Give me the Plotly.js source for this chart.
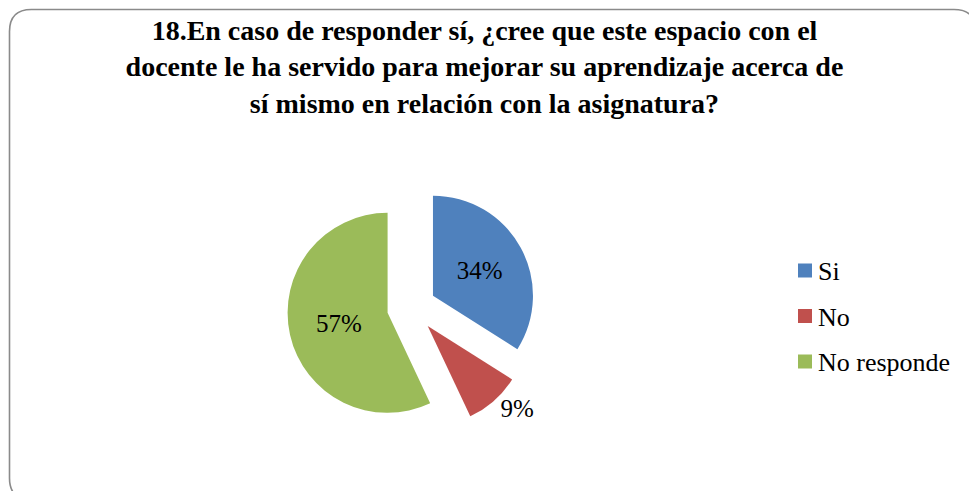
<!DOCTYPE html>
<html>
<head>
<meta charset="utf-8">
<script src="https://cdn.plot.ly/plotly-3.0.1.min.js"></script>
<style>html,body{margin:0;padding:0;background:#fff;}#chart{width:969px;height:491px;}</style>
</head>
<body>
<div id="chart"></div>
<script>
const titleText = "18.En caso de responder sí, ¿cree que este espacio con el<br>docente le ha servido para mejorar su aprendizaje acerca de<br>sí mismo en relación con la asignatura?";
const categories = ["Si", "No", "No responde"];
const values = [34, 9, 57];
const colors = ["#4F81BD", "#C0504D", "#9BBB59"];
const textPositions = ["inside", "outside", "inside"];

const W = 969, H = 491;
const px = x => x / W;
const py = y => 1 - y / H;
const serif = "Liberation Serif";

const trace = {
  type: "pie",
  labels: categories,
  values: values,
  sort: false,
  direction: "clockwise",
  rotation: 0,
  pull: [0.245, 0.245, 0.245],
  marker: {colors: colors, line: {width: 0}},
  textinfo: "percent",
  textposition: textPositions,
  insidetextorientation: "horizontal",
  textfont: {family: serif, size: 25, color: "#000"},
  insidetextfont: {family: serif, size: 25, color: "#000"},
  outsidetextfont: {family: serif, size: 25, color: "#000"},
  domain: {x: [px(287), px(536)], y: [py(432), py(183)]},
  hoverinfo: "none",
  showlegend: false
};

// legend built from categories/colors
const shapes = [];
const annotations = [];
const legX = 798, legY0 = 270.5, legGap = 45.5, sq = 14;
categories.forEach((c, i) => {
  const cy = legY0 + i * legGap;
  shapes.push({type: "rect", xref: "paper", yref: "paper",
    x0: px(legX), x1: px(legX + sq), y0: py(cy + sq / 2), y1: py(cy - sq / 2),
    fillcolor: colors[i], line: {width: 0}});
  annotations.push({xref: "paper", yref: "paper", x: px(816), y: py(cy + 1),
    xanchor: "left", yanchor: "middle", showarrow: false, text: c,
    font: {family: serif, size: 26, color: "#000"}});
});

// rounded border
const bx0 = 9.5, by0 = 9.5, bx1 = 976, by1 = 500, r = 22;
const p = (x, y) => px(x) + "," + py(y);
shapes.push({type: "path", xref: "paper", yref: "paper",
  path: "M " + p(bx0 + r, by0) + " L " + p(bx1 - r, by0) + " Q " + p(bx1, by0) + " " + p(bx1, by0 + r) +
        " L " + p(bx1, by1 - r) + " Q " + p(bx1, by1) + " " + p(bx1 - r, by1) +
        " L " + p(bx0 + r, by1) + " Q " + p(bx0, by1) + " " + p(bx0, by1 - r) +
        " L " + p(bx0, by0 + r) + " Q " + p(bx0, by0) + " " + p(bx0 + r, by0) + " Z",
  line: {color: "#8a8a8a", width: 1.6}, fillcolor: "rgba(0,0,0,0)"});

const layout = {
  width: W, height: H,
  margin: {l: 0, r: 0, t: 0, b: 0},
  paper_bgcolor: "#fff",
  title: {text: "<b>" + titleText + "</b>", x: 0.5, xanchor: "center", y: py(40), yanchor: "top",
    font: {family: serif, size: 28, color: "#000"}},
  showlegend: false,
  shapes: shapes,
  annotations: annotations
};

Plotly.newPlot("chart", [trace], layout, {displayModeBar: false, staticPlot: true});
</script>
</body>
</html>
